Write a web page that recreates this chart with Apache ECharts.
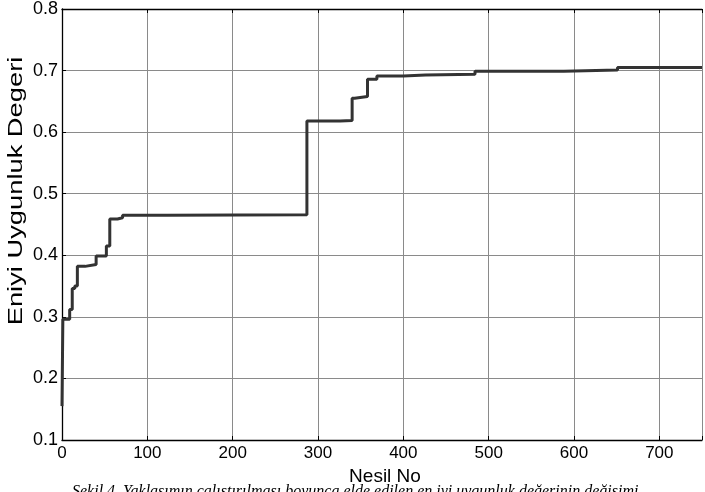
<!DOCTYPE html>
<html>
<head>
<meta charset="utf-8">
<script src="https://cdn.jsdelivr.net/npm/echarts@6/dist/echarts.min.js"></script>
<style>html,body{margin:0;padding:0;background:#fff;}#c{width:705px;height:492px;}</style>
</head>
<body>
<div id="c"></div>
<script>
// Generation numbers where the best fitness changes (step points)
var generations = [0, 1, 9, 12, 15, 18, 27, 40, 52, 56, 65, 71, 123, 287, 326, 340, 343, 358, 369, 400, 426, 484, 588, 651, 750];
// Best fitness value from that generation on
var bestFitness = [0.155, 0.296, 0.312, 0.346, 0.350, 0.382, 0.385, 0.399, 0.415, 0.459, 0.461, 0.465, 0.466, 0.618, 0.619, 0.655, 0.658, 0.686, 0.691, 0.693, 0.694, 0.699, 0.701, 0.705, 0.705];
var xTickLabels = ['0', '100', '200', '300', '400', '500', '600', '700'];
var yTickLabels = ['0.1', '0.2', '0.3', '0.4', '0.5', '0.6', '0.7', '0.8'];
var xTitle = 'Nesil No';
var yTitle = 'Eniyi Uygunluk Degeri';
var caption = 'Şekil 4. Yaklaşımın çalıştırılması boyunca elde edilen en iyi uygunluk değerinin değişimi';

var seriesData = generations.map(function (g, i) { return [g, bestFitness[i]]; });

var chart = echarts.init(document.getElementById('c'), null, {renderer: 'canvas'});
var font = 'Liberation Sans, Arial, sans-serif';
chart.setOption({
  animation: false,
  backgroundColor: '#fff',
  grid: {left: 62, top: 8.5, width: 648, height: 431.5, containLabel: false},
  xAxis: [{
    type: 'value', position: 'bottom', min: 0, max: 750, interval: 100,
    name: xTitle, nameLocation: 'middle', nameGap: 26,
    nameTextStyle: {color: '#000', fontSize: 19, fontFamily: font, padding: [0, 0, 0, 6]},
    axisLine: {lineStyle: {color: '#000', width: 1.3}},
    axisTick: {inside: true, length: 4, lineStyle: {color: '#000'}},
    axisLabel: {color: '#000', fontSize: 17, fontFamily: font, margin: 5,
      formatter: function (v) { var i = Math.round(v / 100); return (v % 100 === 0 && i < xTickLabels.length) ? xTickLabels[i] : ''; }},
    splitLine: {show: true, lineStyle: {color: '#8a8a8a', width: 1}}
  }, {
    type: 'value', position: 'top', min: 0, max: 750, interval: 100,
    axisLine: {lineStyle: {color: '#000', width: 1.3}},
    axisTick: {inside: true, length: 4, lineStyle: {color: '#000'}},
    axisLabel: {show: false}, splitLine: {show: false}
  }],
  yAxis: [{
    type: 'value', min: 0.1, max: 0.8, interval: 0.1,
    axisLine: {show: true, lineStyle: {color: '#000', width: 1.3}},
    axisTick: {show: true, inside: true, length: 4, lineStyle: {color: '#000'}},
    axisLabel: {color: '#000', fontSize: 18, fontFamily: font, margin: 4,
      formatter: function (v) { var i = Math.round((v - 0.1) * 10); return yTickLabels[i] || ''; }},
    splitLine: {show: true, lineStyle: {color: '#8a8a8a', width: 1}}
  }],
  graphic: [{
    type: 'text', x: 16, y: 191, rotation: Math.PI / 2, scaleX: 1.3,
    style: {text: yTitle, fill: '#000', font: '21px ' + font, align: 'center', verticalAlign: 'middle'}
  }, {
    type: 'text', left: 72, top: 484,
    style: {text: caption, fill: '#000', font: 'italic 16px "Liberation Serif", "Times New Roman", serif'}
  }],
  series: [{
    type: 'line', step: 'end', data: seriesData, symbol: 'none',
    lineStyle: {color: '#333', width: 3}, xAxisIndex: 0, yAxisIndex: 0
  }]
});
</script>
</body>
</html>
